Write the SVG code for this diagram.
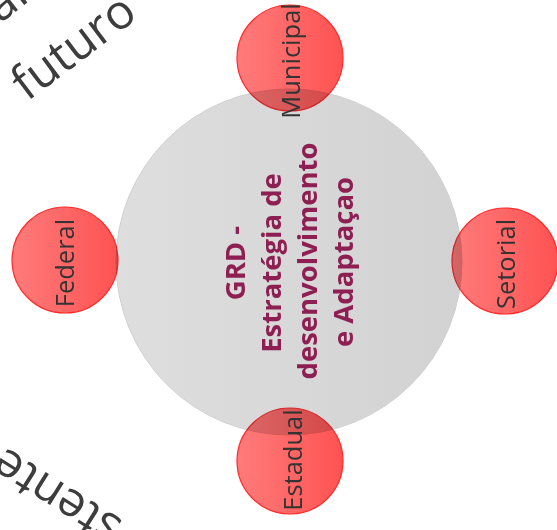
<svg xmlns="http://www.w3.org/2000/svg" width="557" height="530" viewBox="0 0 557 530">
  <defs>
    <linearGradient id="grayGrad" x1="0" y1="0" x2="1" y2="0">
      <stop offset="0" stop-color="#dedede"/>
      <stop offset="1" stop-color="#d2d2d2"/>
    </linearGradient>
    <linearGradient id="redGrad" x1="0" y1="0" x2="1" y2="0">
      <stop offset="0" stop-color="#ff7b7b"/>
      <stop offset="1" stop-color="#ff5252"/>
    </linearGradient>
  </defs>
  <style>
    .bg { font-family: "Open Sans", "Liberation Sans", sans-serif; font-size: 48px; fill: #3d3d3d; }
    .hub { fill: url(#grayGrad); stroke: #cfcfcf; stroke-width: 1; }
    .hubtxt { font-family: "Open Sans", "Liberation Sans", sans-serif; font-size: 27.5px; font-weight: bold; fill: #8e1f52; text-anchor: middle; }
    .sat { fill: url(#redGrad); stroke: #ff2a2a; stroke-width: 1.2; mix-blend-mode: multiply; }
    .sattxt { font-family: "Open Sans", "Liberation Sans", sans-serif; font-size: 25.5px; fill: #333333; text-anchor: middle; }
  </style>

  <!-- background partial texts -->
  <text class="bg" transform="translate(0,24) rotate(-38)">al</text>
  <text class="bg" transform="translate(27,102) rotate(-37)">futuro</text>
  <text class="bg" transform="translate(124,521) rotate(-148)">stente</text>

  <g id="connectors"></g>

  <g id="hub">
    <circle class="hub" cx="289" cy="262" r="173"/>
    <text class="hubtxt" transform="translate(245,263) rotate(-90)">GRD -</text>
    <text class="hubtxt" transform="translate(281,263) rotate(-90)">Estratégia de</text>
    <text class="hubtxt" transform="translate(317,261) rotate(-90)">desenvolvimento</text>
    <text class="hubtxt" transform="translate(353,262) rotate(-90)">e Adaptaçao</text>
  </g>

  <g id="municipal">
    <circle class="sat" cx="290" cy="58" r="53"/>
    <text class="sattxt" transform="translate(300,61) rotate(-90)">Municipal</text>
  </g>
  <g id="federal">
    <circle class="sat" cx="65" cy="260" r="53"/>
    <text class="sattxt" transform="translate(74,263) rotate(-90)">Federal</text>
  </g>
  <g id="setorial">
    <circle class="sat" cx="505" cy="261" r="53"/>
    <text class="sattxt" transform="translate(515,264) rotate(-90)">Setorial</text>
  </g>
  <g id="estadual">
    <circle class="sat" cx="290" cy="461" r="53"/>
    <text class="sattxt" transform="translate(302,460) rotate(-90)">Estadual</text>
  </g>
</svg>
